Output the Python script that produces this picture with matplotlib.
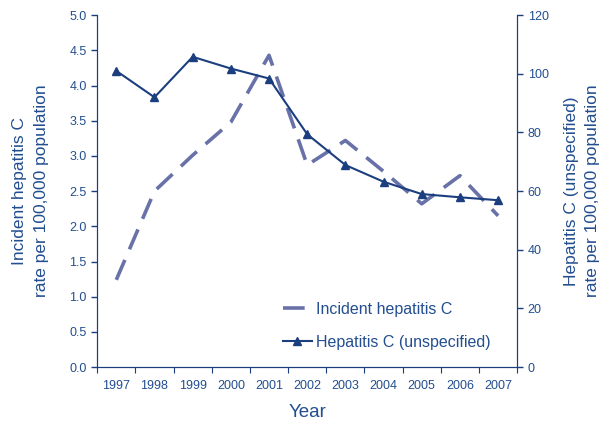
import numpy as np
import matplotlib.pyplot as plt

plt.rcParams['font.family'] = ['Liberation Sans', 'DejaVu Sans']

years = ['1997', '1998', '1999', '2000', '2001', '2002', '2003', '2004', '2005', '2006', '2007']
incident = [1.24, 2.50, 3.01, 3.48, 4.43, 2.87, 3.22, 2.78, 2.32, 2.72, 2.15]
unspecified = [101.0, 92.0, 105.8, 101.8, 98.4, 79.4, 68.9, 63.2, 59.0, 57.9, 56.9]

navy = '#1b3f7e'
lav = '#6872a8'
txt = '#234e8f'

fig = plt.figure(figsize=(6, 4.21), dpi=100)
ax = fig.add_axes([0.162, 0.128, 0.7, 0.836])
ax2 = ax.twinx()

x = np.arange(len(years))
l1, = ax.plot(x, incident, color=lav, lw=2.6, dashes=(6, 3.2), label='Incident hepatitis C')
l2, = ax2.plot(x, unspecified, color=navy, lw=1.5, marker='^', ms=5.5, label='Hepatitis C (unspecified)')

ax.set_xlim(-0.5, len(years) - 0.5)
ax.set_ylim(0, 5)
ax2.set_ylim(0, 120)
ax.set_yticks(np.arange(0, 5.01, 0.5))
ax.set_yticklabels([f'{v:.1f}' for v in np.arange(0, 5.01, 0.5)])
ax2.set_yticks(np.arange(0, 121, 20))

ax.set_xticks(np.arange(-0.5, len(years), 1.0))
ax.set_xticklabels([])
ax.set_xticks(x, minor=True)
ax.set_xticklabels(years, minor=True)
ax.tick_params(axis='x', which='minor', length=0, pad=9)
ax.tick_params(axis='x', which='major', length=4, color=navy, direction='out')

for a in (ax, ax2):
    a.spines['top'].set_visible(False)
    for s in ('left', 'right', 'bottom'):
        a.spines[s].set_color(navy)
    a.tick_params(colors=navy, labelcolor=txt, labelsize=9, which='both')
ax.tick_params(axis='y', length=4, width=1)
ax2.tick_params(axis='y', length=4, width=1)

ax.set_xlabel('Year', color=txt, fontsize=13.5, labelpad=9)
ax.set_ylabel('Incident hepatitis C\nrate per 100,000 population', color=txt, fontsize=12.5,
              labelpad=15, linespacing=1.55)
ax2.set_ylabel('Hepatitis C (unspecified)\nrate per 100,000 population', color=txt, fontsize=12.5,
               rotation=90, labelpad=11, linespacing=1.55)

leg = ax.legend(handles=[l1, l2], loc='lower right', bbox_to_anchor=(0.97, 0.009), frameon=False,
                fontsize=11.5, handlelength=1.8, handletextpad=0.25, labelspacing=1.1)
for t in leg.get_texts():
    t.set_color(txt)

fig.savefig('out.png', dpi=100)
